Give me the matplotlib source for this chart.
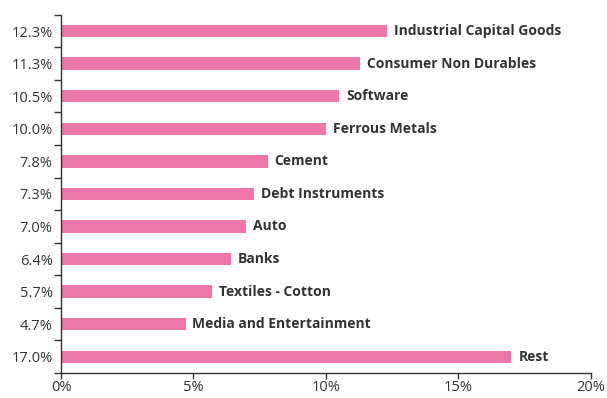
import numpy as np
import matplotlib
matplotlib.use("Agg")
import matplotlib.pyplot as plt
from matplotlib.ticker import FixedLocator, FuncFormatter

sectors = ["Industrial Capital Goods", "Consumer Non Durables", "Software",
           "Ferrous Metals", "Cement", "Debt Instruments", "Auto", "Banks",
           "Textiles - Cotton", "Media and Entertainment", "Rest"]
weights = [12.3, 11.3, 10.5, 10.0, 7.8, 7.3, 7.0, 6.4, 5.7, 4.7, 17.0]
x_ticks = [0, 5, 10, 15, 20]

bar_color = "#ec77a6"
text_color = "#333333"

plt.rcParams['font.family'] = ['Open Sans', 'DejaVu Sans']

fig = plt.figure(figsize=(6.07, 3.98), dpi=100)
ax = fig.add_axes([0.1005, 0.0628, 0.873, 0.9])

pos = np.arange(len(sectors))
ax.barh(pos, weights, height=0.38, color=bar_color)

for p, w, name in zip(pos, weights, sectors):
    ax.annotate(name, (w, p), xytext=(5, 0), textcoords="offset points",
                va="center", ha="left", fontsize=10, fontweight="bold",
                color=text_color)

ax.set_ylim(len(sectors) - 0.5, -0.5)
ax.set_xlim(0, 20)

ax.set_yticks(pos)
ax.set_yticklabels([f"{w:.1f}%" for w in weights])
ax.yaxis.set_minor_locator(FixedLocator(np.arange(-0.5, len(sectors), 1.0)))
ax.tick_params(axis="y", which="major", length=0, pad=6, labelsize=10.5,
               labelcolor=text_color)
ax.tick_params(axis="y", which="minor", length=5, width=1, color="#333333")

ax.set_xticks(x_ticks)
ax.xaxis.set_major_formatter(FuncFormatter(lambda v, _: f"{v:.0f}%"))
ax.tick_params(axis="x", length=4, width=1, color="#333333", labelsize=10.5,
               labelcolor=text_color, pad=1)

for side in ["top", "right"]:
    ax.spines[side].set_visible(False)
for side in ["left", "bottom"]:
    ax.spines[side].set_color("#333333")
    ax.spines[side].set_linewidth(1)

fig.savefig("out.png", dpi=100)
